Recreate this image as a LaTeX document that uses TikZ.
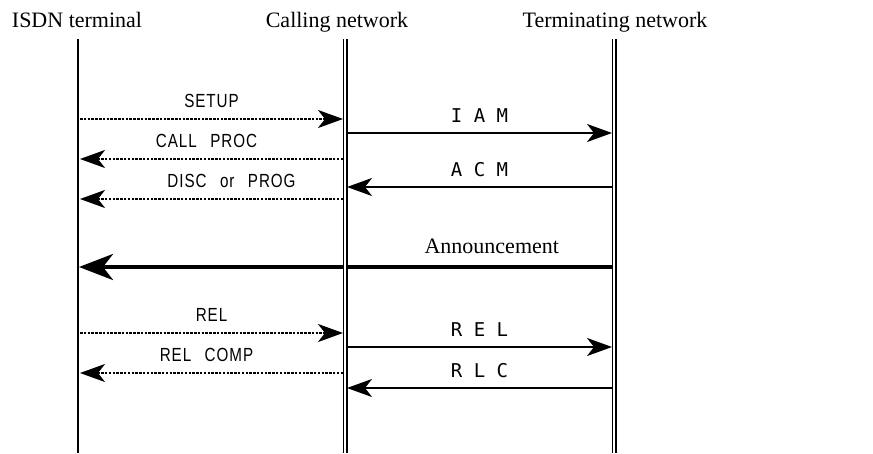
\documentclass[tikz,border=0pt]{standalone}
\usepackage{fontspec}
\setmainfont{Liberation Serif}
\newfontfamily\msgfont[FakeStretch=0.8,LetterSpace=5,WordSpace=2.6]{Liberation Sans}
\newfontfamily\isupfont{DejaVu Sans Mono}
\usetikzlibrary{arrows.meta}

\begin{document}
\begin{tikzpicture}[
        x=1pt, y=-1pt,
        >={Stealth[length=25pt,width=18pt,inset=7pt]},
        party/.style={anchor=base, font=\fontsize{22}{26}\selectfont},
        lifeline/.style={line width=1.6pt},
        trunk/.style={double, double distance=1.8pt, line width=1.6pt},
        sig/.style={->, line width=2pt, shorten >=2pt, shorten <=2pt},
        dotsig/.style={sig, dash pattern=on 2.5pt off 1.3pt, line width=2.2pt},
        msg/.style={anchor=base, yshift=12pt, font=\msgfont\fontsize{19}{22}\selectfont},
        isup/.style={anchor=base, yshift=11pt, font=\isupfont\fontsize{19}{22}\selectfont}
    ]
        \useasboundingbox (0,0) rectangle (873,453);

        % parties
        \node[party] (isdnhd) at (77,27) {ISDN terminal};
        \node[party] (callhd) at (337,27) {Calling network};
        \node[party] (termhd) at (615,27) {Terminating network};

        \coordinate (isdn) at (78,39);
        \coordinate (call) at (345,39);
        \coordinate (term) at (614,39);
        \coordinate (bottom) at (0,453);

        % message levels
        \coordinate (setup) at (0,119);
        \coordinate (iam) at (0,133);
        \coordinate (proc) at (0,159);
        \coordinate (acm) at (0,187);
        \coordinate (disc) at (0,199);
        \coordinate (annc) at (0,267);
        \coordinate (rel) at (0,333);
        \coordinate (isuprel) at (0,347);
        \coordinate (relcomp) at (0,373);
        \coordinate (rlc) at (0,388);

        % DSS1 side
        \draw[dotsig] (isdn |- setup) -- node[msg]{SETUP} (call |- setup);
        \draw[dotsig] (call |- proc) -- node[msg, xshift=-5pt]{CALL PROC} (isdn |- proc);
        \draw[dotsig] (call |- disc) -- node[msg, xshift=20pt]{DISC or PROG} (isdn |- disc);
        \draw[dotsig] (isdn |- rel) -- node[msg]{REL} (call |- rel);
        \draw[dotsig] (call |- relcomp) -- node[msg, xshift=-5pt]{REL COMP} (isdn |- relcomp);

        % ISUP side
        \draw[sig] (call |- iam) -- node[isup]{I A M} (term |- iam);
        \draw[sig] (term |- acm) -- node[isup]{A C M} (call |- acm);
        \draw[sig] (call |- isuprel) -- node[isup]{R E L} (term |- isuprel);
        \draw[sig] (term |- rlc) -- node[isup]{R L C} (call |- rlc);

        % in-band announcement
        \draw[line width=4pt, shorten >=1pt, -{Stealth[length=34pt,width=26pt,inset=10pt]}]
            (term |- annc) -- node[pos=0.228, anchor=base, yshift=14pt, font=\fontsize{22}{26}\selectfont]{Announcement} (isdn |- annc);

        % lifelines
        \draw[lifeline] (isdn) -- (isdn |- bottom);
        \draw[trunk] (call) -- (call |- bottom);
        \draw[trunk] (term) -- (term |- bottom);
    \end{tikzpicture}
\end{document}
